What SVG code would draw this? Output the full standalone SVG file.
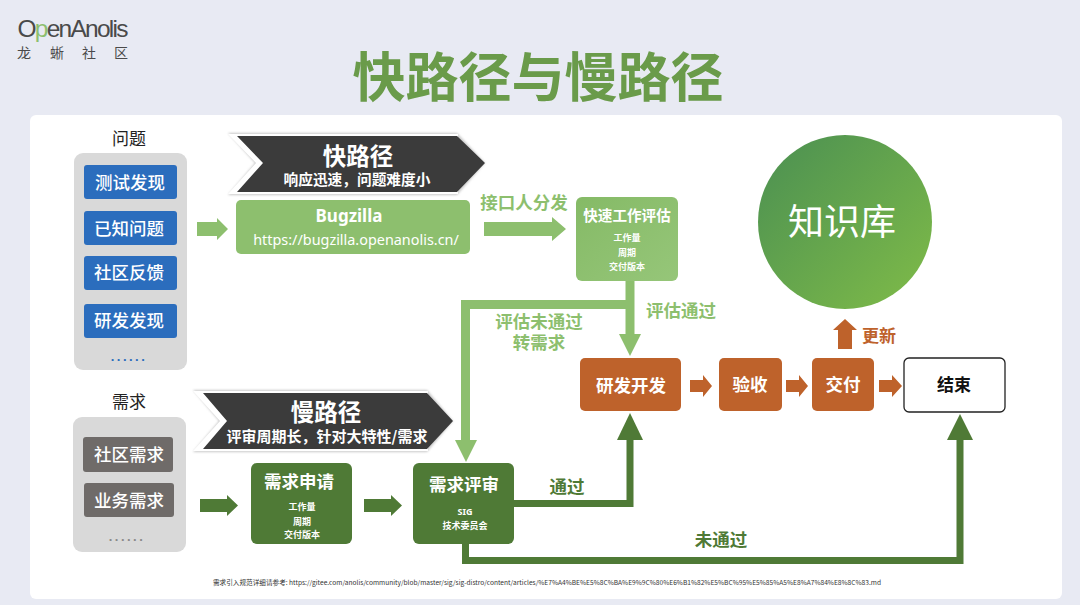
<svg xmlns="http://www.w3.org/2000/svg" width="1080" height="605" viewBox="0 0 1080 605">
<style>
text{font-family:"Noto Sans CJK SC","Noto Sans",sans-serif;text-anchor:middle}
.b{font-weight:700}
.w{fill:#fff}
.pb{fill:#2B6DBD}
.gb{fill:#6F6B69}
.lg{fill:#8DBF6E}
.dg{fill:#4F7A36}
.or{fill:#BE622B}
.panel{fill:#D9D9D9}
.t15{font-size:17.5px;fill:#fff;font-weight:500}
.sm{font-size:9px;fill:#fff;font-weight:700}
.lgt{fill:#8DBF6E;font-weight:700;font-size:17.5px}
.dgt{fill:#4F7A36;font-weight:700;font-size:17.5px}
.lgl{fill:none;stroke:#8DBF6E;stroke-width:9}
.dgl{fill:none;stroke:#4F7A36;stroke-width:7}
.dots{font-size:13px;font-weight:700;letter-spacing:2.500px;font-family:"Liberation Sans",sans-serif}
</style>
<defs>
<linearGradient id="kb" x1="0" y1="0" x2="1" y2="1"><stop offset="0" stop-color="#4A8F52"/><stop offset="1" stop-color="#80BC48"/></linearGradient>
<linearGradient id="lb" x1="0" y1="0" x2="1" y2="1"><stop offset="0" stop-color="#85BA66"/><stop offset="1" stop-color="#96C679"/></linearGradient>
<filter id="sh" x="-5%" y="-10%" width="110%" height="120%"><feGaussianBlur stdDeviation="1.2"/></filter>
</defs>
<rect width="1080" height="605" fill="#E8EAF3"/>
<g id="logo">
<text x="73" y="37" font-size="24.5" fill="#4A4A4A" style="font-family:'Liberation Sans',sans-serif" textLength="111">O<tspan fill="#8DBF6E">p</tspan>enAnolis</text>
<text x="24" y="58" font-size="14" fill="#4A4A4A">龙</text>
<text x="57" y="58" font-size="14" fill="#4A4A4A">蜥</text>
<text x="89" y="58" font-size="14" fill="#4A4A4A">社</text>
<text x="121" y="58" font-size="14" fill="#4A4A4A">区</text>
</g>
<text id="title" x="538" y="97" font-size="53" class="b" fill="#6A9B4A">快路径与慢路径</text>
<rect id="card" x="30" y="115" width="1032" height="484" rx="6" fill="#fff"/>

<g id="connectors">
<path class="lg" d="M197 222H217V218L228 229L217 240V236H197Z"/>
<path class="lg" d="M484 222H552V217L566 229L552 241V236H484Z"/>
<path class="lgl" d="M630 281V338"/>
<path class="lg" d="M619 334H641L630 356Z"/>
<path class="lgl" d="M630 304.500H465.500V444"/>
<path class="lg" d="M455 440H477L466 462Z"/>
<path class="or" d="M690 380H703V375L712 386L703 397V392H690Z"/>
<path class="or" d="M786 380H799V375L808 386L799 397V392H786Z"/>
<path class="or" d="M879 380H892V375L902 386L892 397V392H879Z"/>
<path class="or" d="M838 349V330H833L845 319L857 330H852V349Z"/>
<path class="dg" d="M200 499H227V495L238 505.500L227 516V512H200Z"/>
<path class="dg" d="M364 499H391V495L402 505.500L391 516V512H364Z"/>
<path class="dgl" d="M514 503.500H630V436"/>
<path class="dg" d="M617 440H643L630 413Z"/>
<path class="dgl" d="M465.500 544V560.500H960V436"/>
<path class="dg" d="M947 440H973L960 414Z"/>
</g>

<g id="issues">
<rect class="panel" x="74" y="153" width="113" height="217" rx="9"/>
<text x="129" y="145" font-size="17" fill="#222">问题</text>
<rect class="pb" x="84" y="165" width="93" height="34" rx="3"/><text class="t15" x="130" y="189">测试发现</text>
<rect class="pb" x="84" y="211" width="93" height="34" rx="3"/><text class="t15" x="129" y="235">已知问题</text>
<rect class="pb" x="84" y="256" width="93" height="34" rx="3"/><text class="t15" x="129" y="279">社区反馈</text>
<rect class="pb" x="84" y="304" width="93" height="34" rx="3"/><text class="t15" x="129" y="327">研发发现</text>
<text class="dots" x="129" y="361" fill="#2B6DBD">......</text>
</g>
<g id="requirements">
<rect class="panel" x="73" y="417" width="113" height="135" rx="9"/>
<text x="129" y="408" font-size="17" fill="#222">需求</text>
<rect class="gb" x="83" y="437" width="90" height="35" rx="3"/><text class="t15" x="129" y="461">社区需求</text>
<rect class="gb" x="84" y="483" width="90" height="34" rx="3"/><text class="t15" x="129" y="507">业务需求</text>
<text class="dots" x="127" y="541" fill="#8A8A8A">......</text>
</g>

<g id="fast-banner">
<path d="M228 133H457L485 163L457 195H228L255 163Z" fill="#C9C9C9" filter="url(#sh)"/>
<path d="M228 134H458L458 194H228L256 163Z" fill="#fff"/>
<path d="M237 136H457L485 163L457 192H237L263 163Z" fill="#3B3B3B"/>
<text x="358" y="165" font-size="23.500" class="b w">快路径</text>
<text x="357" y="185" font-size="14.700" class="b w">响应迅速，问题难度小</text>
</g>
<g id="slow-banner">
<path d="M193 390H427L453 421L427 452H193L219 421Z" fill="#C9C9C9" filter="url(#sh)"/>
<path d="M193 391H428L428 451H193L220 421Z" fill="#fff"/>
<path d="M203 393H427L453 421L427 449H203L227 421Z" fill="#3B3B3B"/>
<text x="326" y="421" font-size="23.500" class="b w">慢路径</text>
<text x="327" y="442" font-size="15" class="b w">评审周期长，针对大特性/需求</text>
</g>

<g id="bugzilla">
<rect class="lg" x="236" y="200" width="234" height="54" rx="5"/>
<text x="349" y="222" font-size="17" class="b w" style="font-family:'Noto Sans',sans-serif">Bugzilla</text>
<text x="356" y="245" font-size="14.400" fill="#fff" style="font-family:'Noto Sans',sans-serif">https://bugzilla.openanolis.cn/</text>
</g>
<text class="lgt" x="524" y="209">接口人分发</text>
<g id="fast-eval">
<rect x="576" y="197" width="102" height="84" rx="6" fill="url(#lb)"/>
<text x="627" y="221" font-size="14.600" class="b w">快速工作评估</text>
<text class="sm" x="627" y="241">工作量</text>
<text class="sm" x="627" y="256">周期</text>
<text class="sm" x="627" y="270">交付版本</text>
</g>
<text class="lgt" x="681" y="317">评估通过</text>
<text class="lgt" x="539" y="328">评估未通过</text>
<text class="lgt" x="539" y="349">转需求</text>

<g id="knowledge"><circle cx="845" cy="222" r="87" fill="url(#kb)"/><text x="842" y="235" font-size="36" fill="#fff">知识库</text></g>
<g id="dev"><rect class="or" x="580" y="358" width="101" height="53" rx="5"/><text x="631" y="392" font-size="17.500" class="b w">研发开发</text></g>
<g id="accept"><rect class="or" x="719" y="358" width="63" height="53" rx="5"/><text x="750" y="391" font-size="17.500" class="b w">验收</text></g>
<g id="deliver"><rect class="or" x="812" y="358" width="62" height="53" rx="5"/><text x="843" y="391" font-size="17.500" class="b w">交付</text></g>
<g id="end"><rect x="904" y="358" width="101" height="54" rx="5" fill="#fff" stroke="#222" stroke-width="1.3"/><text x="954" y="391" font-size="17" class="b" fill="#111">结束</text></g>
<text x="879" y="342" font-size="17" class="b" fill="#BE622B">更新</text>

<g id="req-apply"><rect class="dg" x="251" y="463" width="101" height="81" rx="6"/>
<text x="299" y="488" font-size="17.500" class="b w">需求申请</text>
<text class="sm" x="302" y="510">工作量</text><text class="sm" x="302" y="525">周期</text><text class="sm" x="302" y="538">交付版本</text></g>
<g id="req-review"><rect class="dg" x="413" y="463" width="101" height="81" rx="6"/>
<text x="464" y="491" font-size="17.500" class="b w">需求评审</text>
<text class="sm" x="465" y="515" style="font-family:'Noto Sans',sans-serif">SIG</text><text class="sm" x="465" y="529">技术委员会</text></g>
<text class="dgt" x="567" y="493">通过</text>
<text class="dgt" x="721" y="546">未通过</text>
<text x="547" y="585" font-size="6.500" fill="#333" textLength="668" lengthAdjust="spacingAndGlyphs">需求引入规范详细请参考:   https://gitee.com/anolis/community/blob/master/sig/sig-distro/content/articles/%E7%A4%BE%E5%8C%BA%E9%9C%80%E6%B1%82%E5%BC%95%E5%85%A5%E8%A7%84%E8%8C%83.md</text>
</svg>
